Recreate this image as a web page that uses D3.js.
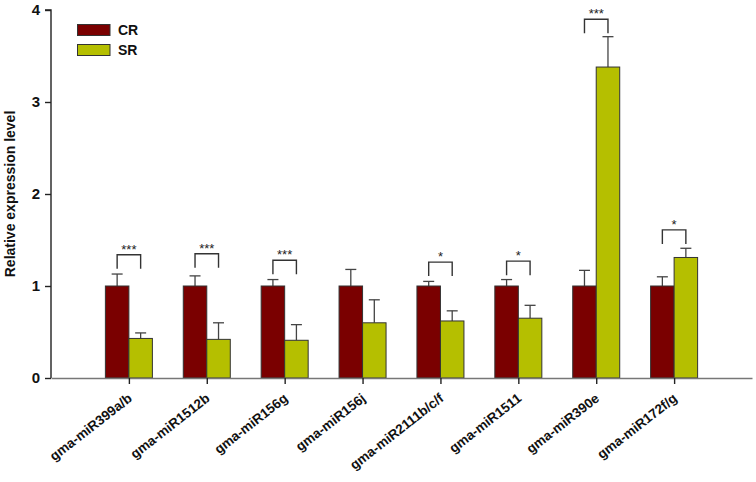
<!DOCTYPE html>
<html><head><meta charset="utf-8">
<script src="https://cdn.jsdelivr.net/npm/d3@7"></script>
<style>body{margin:0;background:#fff}svg{display:block}</style>
</head><body>
<script>
const categories = ["gma-miR399a/b","gma-miR1512b","gma-miR156g","gma-miR156j","gma-miR2111b/c/f","gma-miR1511","gma-miR390e","gma-miR172f/g"];
const crValues = [1,1,1,1,1,1,1,1];
const crErrors = [0.13,0.11,0.07,0.18,0.05,0.07,0.17,0.10];
const srValues = [0.43,0.42,0.41,0.60,0.62,0.65,3.38,1.31];
const srErrors = [0.06,0.18,0.17,0.25,0.11,0.14,0.33,0.10];
const sigLabels = ["***","***","***","","*","*","***","*"];
const sigLevels = [1.34,1.35,1.28,null,1.26,1.27,3.90,1.61];
const seriesNames = ["CR","SR"];
const seriesColors = ["#7a0000","#b5bf00"];
const yTicks = [0,1,2,3,4];

const W=756,H=482;
const svg=d3.select("body").append("svg").attr("width",W).attr("height",H);
const x0=51,x1=752,yTop=10,yBot=378;
const x=d3.scalePoint().domain(categories).range([x0,x1]).padding(1);
const y=d3.scaleLinear().domain([0,4]).range([yBot,yTop]);
const bw=23.5;
const font="Arial, 'Liberation Sans', sans-serif";

// bars with error bars
const series=[crValues,srValues], errs=[crErrors,srErrors];
series.forEach((vals,s)=>{
  const g=svg.append("g");
  categories.forEach((c,i)=>{
    const xl = s===0 ? x(c)-bw : x(c);
    const top=y(vals[i]+errs[s][i]);
    g.append("line").attr("x1",xl+bw/2).attr("x2",xl+bw/2).attr("y1",y(vals[i])).attr("y2",top).attr("stroke","#444").attr("stroke-width",1.3);
    g.append("line").attr("x1",xl+bw/2-5.5).attr("x2",xl+bw/2+5.5).attr("y1",top).attr("y2",top).attr("stroke","#444").attr("stroke-width",1.3);
    g.append("rect").attr("x",xl).attr("y",y(vals[i])).attr("width",bw).attr("height",y(0)-y(vals[i]))
      .attr("fill",seriesColors[s]).attr("stroke","#333").attr("stroke-width",1);
  });
});

// significance brackets
categories.forEach((c,i)=>{
  if(sigLevels[i]==null) return;
  const yl=y(sigLevels[i]);
  const xa=x(c)-bw/2, xb=x(c)+bw/2;
  svg.append("path").attr("d",`M${xa},${yl+14}V${yl}H${xb}V${yl+14}`).attr("fill","none").attr("stroke","#333").attr("stroke-width",1.4);
  svg.append("text").attr("x",(xa+xb)/2).attr("y",yl-1).attr("text-anchor","middle")
    .attr("font-family",font).attr("font-size",13).attr("fill","#222").text(sigLabels[i]);
});

// y axis
const yAxis=d3.axisLeft(y).tickValues(yTicks).tickFormat(d3.format("d")).tickSize(6).tickPadding(5);
const ya=svg.append("g").attr("transform",`translate(${x0},0)`).call(yAxis);
ya.select(".domain").attr("stroke","#222").attr("stroke-width",1.4).attr("d",`M-6,${yTop}H0V${yBot}`);
ya.selectAll(".tick line").attr("stroke","#222").attr("stroke-width",1.4);
ya.selectAll("text").attr("font-family",font).attr("font-size",15).attr("font-weight","bold").attr("fill","#111");

// x axis
const xAxis=d3.axisBottom(x).tickSize(6).tickSizeOuter(0).tickFormat("");
const xa=svg.append("g").attr("transform",`translate(0,${yBot})`).call(xAxis);
xa.select(".domain").attr("stroke","#777").attr("stroke-width",1.6);
xa.selectAll(".tick line").attr("stroke","#222").attr("stroke-width",1.4);
categories.forEach(c=>{
  svg.append("text").attr("transform",`translate(${x(c)+4},${yBot+22}) rotate(-38)`)
    .attr("text-anchor","end").attr("font-family",font).attr("font-size",13.5).attr("font-weight","bold")
    .attr("fill","#111").text(c);
});

// y title
svg.append("text").attr("transform",`translate(15,${(yTop+yBot)/2}) rotate(-90)`).attr("text-anchor","middle")
  .attr("font-family",font).attr("font-size",14).attr("font-weight","bold").attr("fill","#111").text("Relative expression level");

// legend
seriesNames.forEach((n,i)=>{
  const ly=24.5+i*20;
  svg.append("rect").attr("x",77.5).attr("y",ly).attr("width",32.5).attr("height",11).attr("fill",seriesColors[i]).attr("stroke","#333").attr("stroke-width",1);
  svg.append("text").attr("x",118).attr("y",ly+10.5).attr("font-family",font).attr("font-size",14).attr("font-weight","bold").attr("fill","#111").text(n);
});
</script>
</body></html>
